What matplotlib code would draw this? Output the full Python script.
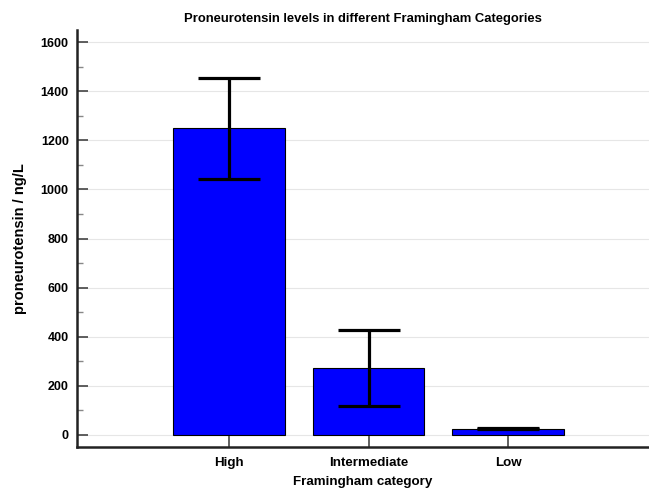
import matplotlib
matplotlib.use("Agg")
import matplotlib.pyplot as plt
from matplotlib.ticker import MultipleLocator

plt.rcParams['font.family'] = ['Liberation Sans', 'DejaVu Sans']

categories = ["High", "Intermediate", "Low"]
means = [1250, 273, 25]
err_low = [1042, 118, 22]
err_high = [1453, 427, 28]

fig = plt.figure(figsize=(6.49, 4.88), dpi=100)
ax = fig.add_axes([0.1186, 0.084, 0.8814, 0.8545])

x = list(range(len(categories)))
lower = [m - l for m, l in zip(means, err_low)]
upper = [h - m for m, h in zip(means, err_high)]

ax.bar(x, means, width=0.8, color="#0000FF", edgecolor="black", linewidth=0.8, zorder=2)
ax.errorbar(x, means, yerr=[lower, upper], fmt="none", ecolor="black",
            elinewidth=2.3, capsize=22, capthick=2.3, zorder=3)

ax.set_xlim(-1.09, 3.01)
ax.set_ylim(-50, 1650)
ax.set_xticks(x)
ax.set_xticklabels(categories, fontweight="bold", fontsize=9.6)
ax.yaxis.set_major_locator(MultipleLocator(200))
ax.yaxis.set_minor_locator(MultipleLocator(100))
for lab in ax.get_yticklabels():
    lab.set_fontweight("bold")
    lab.set_fontsize(9)

ax.tick_params(axis="y", which="major", direction="in", length=8, width=1.2, color="#444444", pad=6)
ax.tick_params(axis="y", which="minor", direction="in", length=4, width=1, color="#888888")
ax.tick_params(axis="x", which="major", direction="in", length=8, width=1.2, color="#444444", pad=7)

ax.grid(axis="y", which="major", color="#e6e6e6", linewidth=0.8, zorder=0)
ax.set_axisbelow(True)

for s in ("top", "right"):
    ax.spines[s].set_visible(False)
for s in ("left", "bottom"):
    ax.spines[s].set_linewidth(1.8)
    ax.spines[s].set_color("#222222")

ax.set_title("Proneurotensin levels in different Framingham Categories",
             fontweight="bold", fontsize=9.4, pad=6)
ax.set_xlabel("Framingham category", fontweight="bold", fontsize=9.6, labelpad=5)
ax.set_ylabel("proneurotensin / ng/L", fontweight="bold", fontsize=10.5, labelpad=10)

fig.savefig("out.png", dpi=100)
